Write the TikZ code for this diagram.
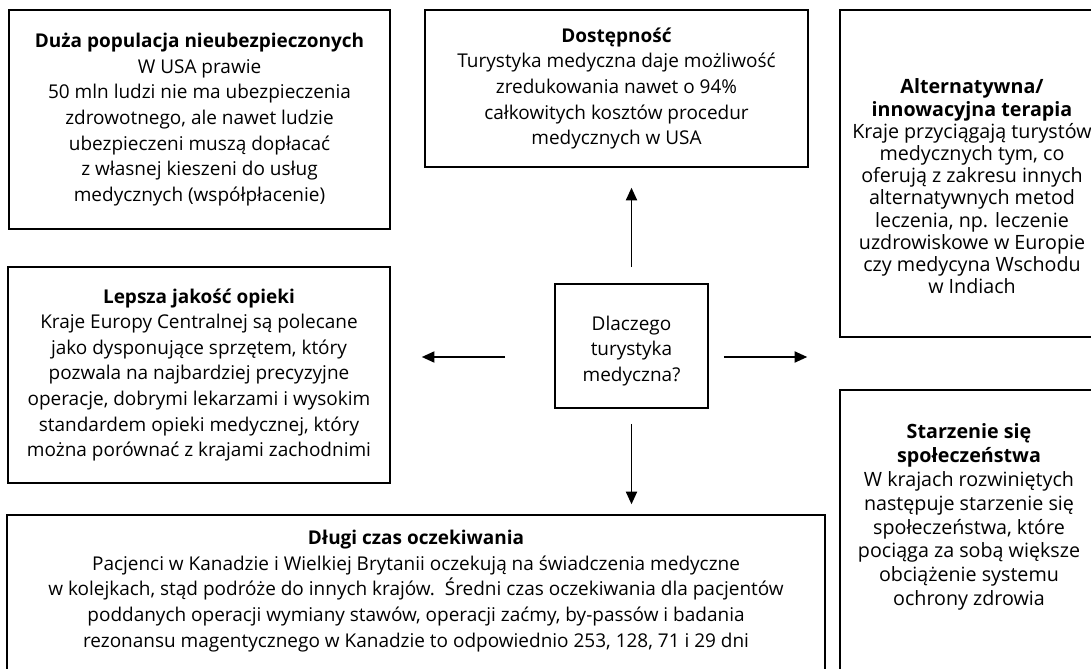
\documentclass[tikz,border=0pt]{standalone}
\usepackage{fontspec}
\setmainfont{Open Sans}
\usetikzlibrary{arrows.meta, positioning}

\begin{document}
\begin{tikzpicture}[x=0.025cm, y=-0.025cm,
  box/.style={draw, line width=1.1pt, align=center, inner sep=0pt,
              font=\fontsize{13.5}{18.2}\selectfont},
  txt/.style={align=center, inner sep=0pt, font=\fontsize{13.5}{18.2}\selectfont},
  arr/.style={-{Triangle[length=9pt, width=8pt]}, line width=1pt},
]
\clip (0,0) rectangle (1091,669);

\node[box, minimum width=9.525cm, minimum height=5.475cm] (pop) at (199.5,119.5)
  {\textbf{Duża populacja nieubezpieczonych}\\W USA prawie\\50 mln ludzi nie ma ubezpieczenia\\
   zdrowotnego, ale nawet ludzie\\ubezpieczeni muszą dopłacać\\z własnej kieszeni do usług\\
   medycznych (współpłacenie)};
\node[box, minimum width=9.575cm, minimum height=3.925cm] (dost) at (616.5,88.5)
  {\textbf{Dostępność}\\Turystyka medyczna daje możliwość\\zredukowania nawet o 94\%\\
   całkowitych kosztów procedur\\medycznych w USA};
\node[box, minimum width=6.6cm, minimum height=8.175cm] (alt) at (972,173.5) {};
\node[txt, font=\fontsize{14}{15.8}\selectfont] (altTxt) at (972,186.5)
  {\textbf{Alternatywna/}\\\textbf{innowacyjna terapia}\\Kraje przyciągają turystów\\
   medycznych tym, co\\oferują z zakresu innych\\alternatywnych metod\\
   leczenia, np. leczenie\\uzdrowiskowe w Europie\\czy medycyna Wschodu\\w Indiach};
\node[box, minimum width=9.55cm, minimum height=5.4cm] (lep) at (199,375)
  {\textbf{Lepsza jakość opieki}\\Kraje Europy Centralnej są polecane\\jako dysponujące sprzętem, który\\
   pozwala na najbardziej precyzyjne\\operacje, dobrymi lekarzami i wysokim\\
   standardem opieki medycznej, który\\można porównać z krajami zachodnimi};
\node[box, minimum width=3.825cm, minimum height=3.1cm] (why) at (631.5,346) {};
\node[txt] (whyTxt) at (631.5,351) {Dlaczego\\turystyka\\medyczna?};
\node[box, minimum width=6.6cm, minimum height=7.75cm] (star) at (972,545) {};
\node[txt, font=\fontsize{14}{17}\selectfont] (starTxt) at (969,517)
  {\textbf{Starzenie się}\\\textbf{społeczeństwa}\\W krajach rozwiniętych\\
   następuje starzenie się\\społeczeństwa, które\\pociąga za sobą większe\\
   obciążenie systemu\\ochrony zdrowia};
\node[box, minimum width=20.45cm, minimum height=4.625cm] (wait) at (416,607.5) {};
\node[txt] (waitTxt) at (416,591)
  {\textbf{Długi czas oczekiwania}\\
   Pacjenci w Kanadzie i Wielkiej Brytanii oczekują na świadczenia medyczne\\
   w kolejkach, stąd podróże do innych krajów.\ \ Średni czas oczekiwania dla pacjentów\\
   poddanych operacji wymiany stawów, operacji zaćmy, by-passów i badania\\
   rezonansu magentycznego w Kanadzie to odpowiednio 253, 128, 71 i 29 dni};

\draw[arr, shorten <=0.4cm, shorten >=0.5cm] (why.north) -- (why.north |- dost.south);
\draw[arr, shorten <=0.375cm, shorten >=0.25cm] (why.south) -- (why.south |- wait.north);
\draw[arr, shorten <=1.225cm, shorten >=0.775cm]
  ([yshift=-0.275cm]why.west) -- ([yshift=-0.275cm]why.west -| lep.east);
\draw[arr, shorten <=0.375cm, shorten >=0.8cm]
  ([yshift=-0.275cm]why.east) -- ([yshift=-0.275cm]why.east -| alt.west);

\end{tikzpicture}
\end{document}
